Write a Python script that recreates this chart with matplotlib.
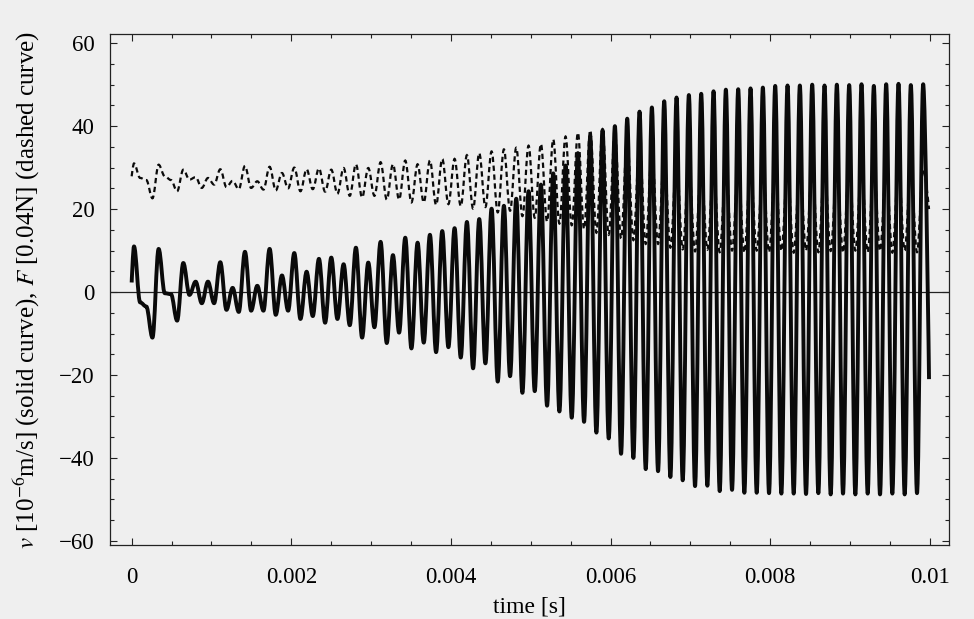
import matplotlib
matplotlib.use("Agg")
import matplotlib.pyplot as plt
from matplotlib.path import Path
from matplotlib.patches import PathPatch
from matplotlib.ticker import MultipleLocator

# readings taken off the scanned figure
t_first_peak = 0.0000288   # s, time of the first maximum
period = 0.0001545         # s, spacing between maxima

# v [1e-6 m/s], solid curve: one maximum / minimum per cycle
v_start = 2.3
v_max = [11.0, -3.5, 10.4, -0.5, 7.0, 2.5, 2.5, 7.2, 1.0, 9.7,
         1.5, 10.4, 4.0, 9.4, 4.9, 8.0, 8.3, 6.7, 10.7, 7.1,
         12.1, 8.9, 13.1, 11.9, 13.8, 14.7, 15.4, 16.9, 17.6, 20.1,
         20.8, 22.5, 24.3, 25.9, 28.6, 30.5, 33.5, 37.5, 39.0, 40.0,
         41.8, 43.5, 44.5, 46.0, 46.9, 47.5, 47.8, 48.4, 48.8, 48.9,
         49.1, 49.3, 49.7, 49.8, 49.8, 50.0, 49.8, 50.0, 49.9, 50.1,
         49.7, 50.1, 50.2, 49.9, 50.1]
v_min = [-2.5, -11.0, -0.3, -6.9, -0.7, -2.7, -2.7, -4.3, -4.8, -4.5,
         -4.5, -5.5, -4.5, -6.5, -5.8, -7.4, -6.5, -8.0, -11.0, -8.5,
         -12.3, -9.8, -13.6, -12.2, -14.5, -13.3, -15.8, -18.4, -17.2, -21.6,
         -20.3, -24.3, -23.9, -27.4, -28.8, -30.3, -31.3, -33.9, -35.3, -39.0,
         -40.0, -42.7, -43.2, -44.6, -45.4, -46.8, -46.7, -48.0, -47.7, -48.4,
         -48.4, -48.5, -48.6, -48.6, -48.7, -48.5, -48.8, -48.6, -48.8, -48.6,
         -48.8, -48.6, -48.8, -48.5]
v_end = -21.0
t_end = 0.00999

# F [0.04 N], dashed curve
F_start = 27.9
F_max = [31.0, 27.0, 30.7, 27.0, 29.5, 27.7, 27.5, 29.6, 26.8, 30.4,
         26.7, 30.2, 28.7, 30.0, 29.6, 29.8, 29.5, 29.9, 30.8, 29.9,
         31.3, 30.8, 31.7, 30.8, 31.7, 32.1, 32.1, 33.0, 33.5, 33.9,
         34.4, 34.8, 35.3, 35.7, 36.8, 37.5, 38.4, 39.0, 39.3, 38.5,
         37.0, 35.5, 34.0, 32.5, 31.5, 30.5, 30.0, 29.6, 29.8, 29.4,
         29.7, 29.5, 29.8, 29.4, 29.7, 29.5, 29.8, 29.4, 29.7, 29.5,
         29.8, 29.4, 29.7, 29.5, 29.6]
F_min = [27.5, 22.6, 27.9, 24.3, 27.1, 25.1, 25.9, 25.3, 24.8, 25.1,
         24.7, 24.5, 25.0, 24.3, 24.8, 24.2, 23.7, 23.2, 22.8, 23.2,
         22.3, 22.3, 21.6, 21.6, 21.0, 21.2, 20.7, 20.1, 20.5, 19.2,
         19.6, 18.3, 17.9, 17.0, 16.5, 16.1, 15.2, 14.3, 13.8, 12.9,
         12.5, 11.6, 11.6, 10.7, 10.3, 9.8, 10.2, 9.6, 10.0, 9.5,
         10.0, 9.6, 9.9, 9.5, 10.0, 9.6, 9.9, 9.5, 10.0, 9.6,
         9.9, 9.5, 10.0, 9.6]
F_end = 20.0

x_ticks = [0, 0.002, 0.004, 0.006, 0.008, 0.01]
x_ticklabels = ["0", "0.002", "0.004", "0.006", "0.008", "0.01"]
y_ticks = [-60, -40, -20, 0, 20, 40, 60]


def extremos(start, highs, lows, end, t_stop):
    # alternate max / min along the cycle grid
    t = [0.0]
    y = [start]
    for i in range(len(lows)):
        t += [t_first_peak + i * period, t_first_peak + (i + 0.5) * period]
        y += [highs[i], lows[i]]
    t.append(t_first_peak + len(lows) * period)
    y.append(highs[len(lows)])
    t.append(t_stop)
    y.append(end)
    return t, y


def curva(t, y, k=0.36):
    # cubic bezier with flat tangents at every extremum
    verts = [(t[0], y[0])]
    codes = [Path.MOVETO]
    last = len(t) - 2
    for i in range(len(t) - 1):
        dt = t[i + 1] - t[i]
        c1 = (t[i] + k * dt, y[i]) if i > 0 else (t[i], y[i])
        c2 = (t[i + 1] - k * dt, y[i + 1]) if i < last else (t[i + 1], y[i + 1])
        verts += [c1, c2, (t[i + 1], y[i + 1])]
        codes += [Path.CURVE4] * 3
    return Path(verts, codes)


plt.rcParams["font.family"] = ["Liberation Serif", "DejaVu Serif"]
plt.rcParams["mathtext.fontset"] = "stix"

fondo = "#efefef"
fig = plt.figure(figsize=(9.74, 6.19), dpi=100, facecolor=fondo)
ax = fig.add_axes([0.1129, 0.1195, 0.8614, 0.8255], facecolor=fondo)

tv, yv = extremos(v_start, v_max, v_min, v_end, t_end)
tf, yf = extremos(F_start, F_max, F_min, F_end, t_end)

ax.axhline(0, color="#222222", lw=0.9, zorder=1)
ax.add_patch(PathPatch(curva(tv, yv), fill=False, edgecolor="#0a0a0a",
                       lw=2.8, capstyle="butt", joinstyle="round", zorder=2))
ax.add_patch(PathPatch(curva(tf, yf), fill=False, edgecolor="#0a0a0a",
                       lw=1.6, linestyle=(0, (2.4, 1.6)), zorder=3))

ax.set_xlim(-0.000272, 0.01024)
ax.set_ylim(-61.0, 62.2)
ax.set_xticks(x_ticks)
ax.set_xticklabels(x_ticklabels)
ax.set_yticks(y_ticks)
ax.xaxis.set_minor_locator(MultipleLocator(0.0005))
ax.yaxis.set_minor_locator(MultipleLocator(5))
ax.tick_params(which="both", direction="in", top=True, right=True,
               width=0.8, color="#222222", labelsize=16.5)
ax.tick_params(which="major", length=5)
ax.tick_params(which="minor", length=3)
ax.tick_params(axis="x", pad=16)
ax.tick_params(axis="y", pad=11)
for s in ax.spines.values():
    s.set_linewidth(0.9)
    s.set_color("#222222")

ax.set_xlabel("time [s]", fontsize=17, labelpad=6)
ax.set_ylabel(r"$v$ [10$^{-6}$m/s] (solid curve), $F$ [0.04N] (dashed curve)",
              fontsize=18, labelpad=12)

fig.savefig("out.png", dpi=100, facecolor=fondo)
